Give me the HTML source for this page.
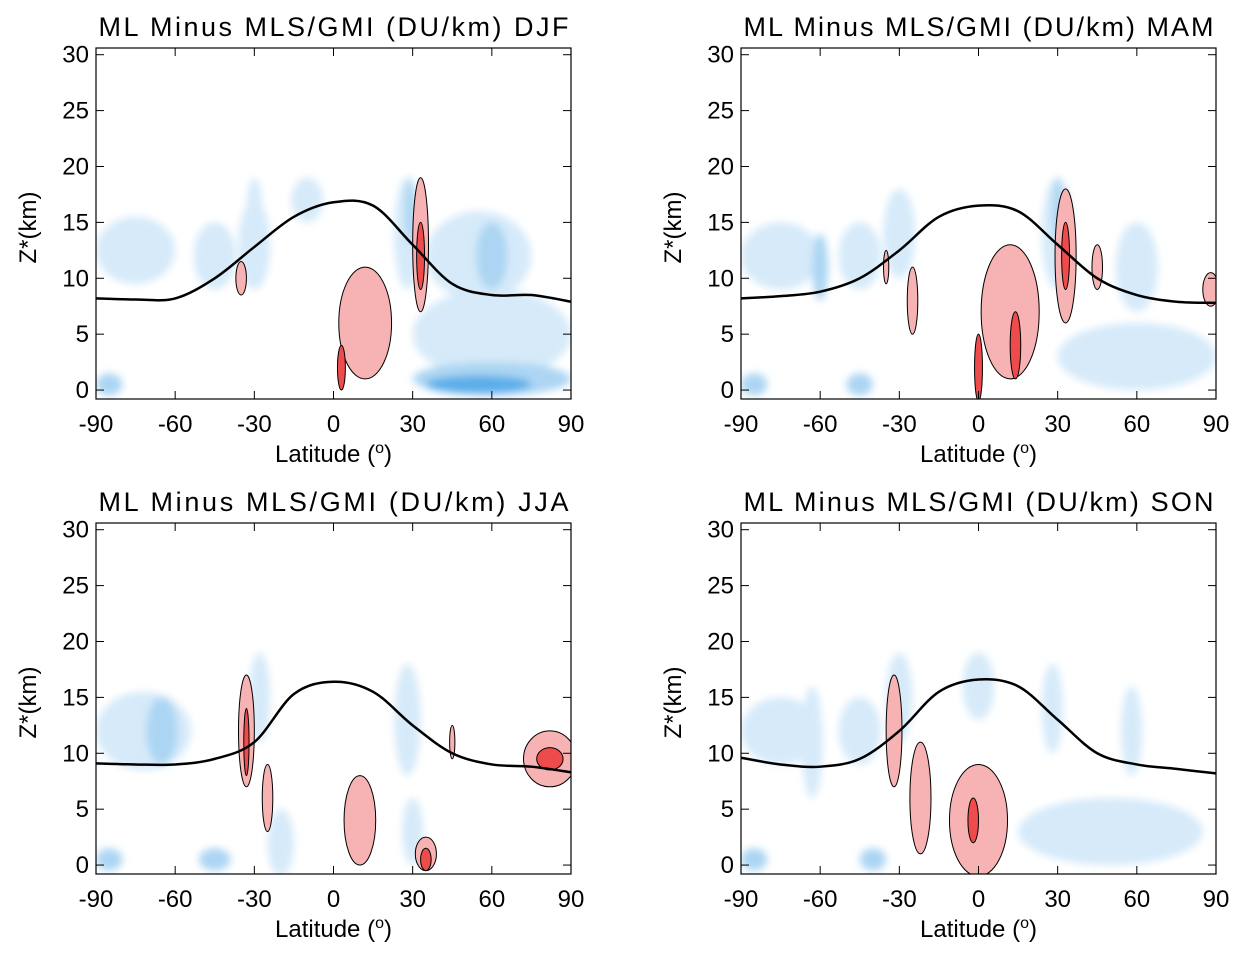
<!DOCTYPE html>
<html><head><meta charset="utf-8"><style>
body{margin:0;background:#fff;}
svg{display:block;font-family:"Liberation Sans",sans-serif;}
</style></head><body>
<svg id="chart" width="1245" height="957" viewBox="0 0 1245 957">
<defs><filter id="blur" x="-50%" y="-50%" width="200%" height="200%"><feGaussianBlur stdDeviation="4"/></filter></defs>
</svg>
<script>
const seasons=["DJF","MAM","JJA","SON"];
const latTicks=[-90,-60,-30,0,30,60,90];
const zTicks=[0,5,10,15,20,25,30];
const tropLat=[-90,-75,-60,-45,-30,-15,0,15,30,45,60,75,90];
const tropDJF=[8.2,8.1,8.2,10,12.8,15.5,16.8,16.5,13,9.5,8.5,8.5,7.9];
const tropMAM=[8.2,8.4,8.8,10,12.5,15.5,16.5,16,13,10,8.5,7.9,7.8];
const tropJJA=[9.1,9,9,9.5,11,15.3,16.4,15.5,12.5,10,9,8.8,8.3];
const tropSON=[9.6,9,8.8,9.5,12,15.5,16.6,16,13,10,9,8.6,8.2];
// blobs: [lat, z, halfWidthLat, halfHeightKm, level] level<0 blue, >0 red
const blobsDJF=[[-75,12.5,15,3,-1],[-45,12,8,3,-1],[-30,13,6,4,-1],[-10,17,6,2,-1],[28,14,5,5,-1],[55,12,20,4,-1],[60,12,6,3,-2],[60,5,30,4,-1],[60,1,30,1.5,-2],[55,0.5,20,0.8,-3],[-85,0.5,5,1,-2],[-30,16,3,3,-1],[29,16,2,3,-2],[33,13,3,6,1],[33,12,1.5,3,2],[-35,10,2,1.5,1],[12,6,10,5,1],[3,2,1.5,2,2]];
const blobsMAM=[[-75,12,15,3,-1],[-45,12,8,3,-1],[-30,14,6,4,-1],[30,14,6,5,-1],[60,11,8,4,-1],[-60,11,3,3,-2],[-85,0.5,5,1,-2],[-45,0.5,5,1,-2],[60,3,30,3,-1],[30,16,2,3,-2],[33,12,4,6,1],[33,12,1.5,3,2],[12,7,11,6,1],[14,4,2,3,2],[0,2,1.5,3,2],[-25,8,2,3,1],[-35,11,1,1.5,1],[45,11,2,2,1],[88,9,3,1.5,1]];
const blobsJJA=[[-72,12,18,3.5,-1],[-65,12,6,3,-2],[-28,15,4,4,-1],[28,13,5,5,-1],[-85,0.5,5,1,-2],[-45,0.5,6,1,-2],[-20,2,5,3,-1],[30,3,4,3,-1],[-33,12,3,5,1],[-33,11,1,3,2],[-25,6,2,3,1],[10,4,6,4,1],[35,1,4,1.5,1],[35,0.5,2,1,2],[82,9.5,10,2.5,1],[82,9.5,5,1,2],[45,11,1,1.5,1]];
const blobsSON=[[-75,12,15,3,-1],[-45,12,8,3,-1],[-30,15,5,4,-1],[0,16,6,3,-1],[28,14,4,4,-1],[58,12,4,4,-1],[-63,11,4,5,-1],[50,3,35,3,-1],[-85,0.5,5,1,-2],[-40,0.5,5,1,-2],[-32,12,3,5,1],[-22,6,4,5,1],[0,4,11,5,1],[-2,4,2,2,2]];
const tropAll=[tropDJF,tropMAM,tropJJA,tropSON];
const blobAll=[blobsDJF,blobsMAM,blobsJJA,blobsSON];
const panels=[[96,48],[741,48],[96,523],[741,523]];
const W=475,H=351,ZMIN=-0.8,ZMAX=30.6;
const svg=document.getElementById('chart');
const NS="http://www.w3.org/2000/svg";
function mk(tag,attrs,parent){const e=document.createElementNS(NS,tag);for(const k in attrs)e.setAttribute(k,attrs[k]);parent.appendChild(e);return e;}
const colors={"-1":"#d6eaf9","-2":"#acd5f3","-3":"#5aaeea","1":"#f7b3b3","2":"#ee4c4c"};
function smooth(p){let d=`M${p[0][0]},${p[0][1]}`;for(let i=0;i<p.length-1;i++){const p0=p[i-1]||p[i],p1=p[i],p2=p[i+1],p3=p[i+2]||p2;d+=` C${p1[0]+(p2[0]-p0[0])/6},${p1[1]+(p2[1]-p0[1])/6} ${p2[0]-(p3[0]-p1[0])/6},${p2[1]-(p3[1]-p1[1])/6} ${p2[0]},${p2[1]}`;}return d;}
seasons.forEach((s,i)=>{
  const [x0,y0]=panels[i];
  const xs=lat=>x0+(lat+90)/180*W;
  const ys=z=>y0+H-(z-ZMIN)/(ZMAX-ZMIN)*H;
  const g=mk('g',{},svg);
  
  
  const cp=mk('clipPath',{id:'cp'+i},g);
  mk('rect',{x:x0,y:y0,width:W,height:H},cp);
  const bg=mk('g',{'clip-path':'url(#cp'+i+')'},g);
  const bl=mk('g',{filter:'url(#blur)'},bg);
  blobAll[i].filter(b=>b[4]<0).forEach(b=>{
    const e=mk('ellipse',{cx:xs(b[0]),cy:ys(b[1]),rx:b[2]/180*W,ry:b[3]/(ZMAX-ZMIN)*H,fill:colors[b[4]]},bl);
    
    
  });
  blobAll[i].filter(b=>b[4]>0).forEach(b=>{
    const e=mk('ellipse',{cx:xs(b[0]),cy:ys(b[1]),rx:b[2]/180*W,ry:b[3]/(ZMAX-ZMIN)*H,fill:colors[b[4]],stroke:'#000','stroke-width':1},bg);
    
    
  });
  const pts=tropLat.map((l,j)=>[xs(l),ys(tropAll[i][j])]);
  const pl=mk('path',{d:smooth(pts),fill:'none',stroke:'#000','stroke-width':2.5},g);
  
  
  const fr=mk('rect',{x:x0,y:y0,width:W,height:H,fill:'none',stroke:'#000','stroke-width':1.2},g);
  
  
  latTicks.forEach(l=>{
    mk('line',{x1:xs(l),x2:xs(l),y1:y0+H,y2:y0+H-8,stroke:'#000'},g);
    mk('line',{x1:xs(l),x2:xs(l),y1:y0,y2:y0+8,stroke:'#000'},g);
    const t=mk('text',{x:xs(l),y:y0+H+33,'font-size':24,'text-anchor':'middle'},g);t.textContent=l;
    
    
  });
  zTicks.forEach(z=>{
    mk('line',{x1:x0,x2:x0+8,y1:ys(z),y2:ys(z),stroke:'#000'},g);
    mk('line',{x1:x0+W,x2:x0+W-8,y1:ys(z),y2:ys(z),stroke:'#000'},g);
    const t=mk('text',{x:x0-7,y:ys(z)+8,'font-size':24,'text-anchor':'end'},g);t.textContent=z;
    
    
  });
  const xt=mk('text',{x:x0+W/2,y:y0+H+63,'font-size':24,'text-anchor':'middle'},g);
  xt.innerHTML='Latitude (<tspan dy="-9" font-size="16">o</tspan><tspan dy="9">)</tspan>';
  
  
  const yt=mk('text',{x:0,y:0,'font-size':24,'text-anchor':'middle',transform:`translate(${x0-60},${y0+H/2+4}) rotate(-90)`},g);
  yt.textContent='Z*(km)';
  
  
  const tt=mk('text',{x:x0+W/2,y:y0-12,'font-size':27,'text-anchor':'middle',textLength:470,lengthAdjust:'spacing'},g);
  tt.textContent='ML Minus MLS/GMI (DU/km)   '+s;
  tt.setAttribute('xml:space','preserve');
  
  
});
</script>
</body></html>
